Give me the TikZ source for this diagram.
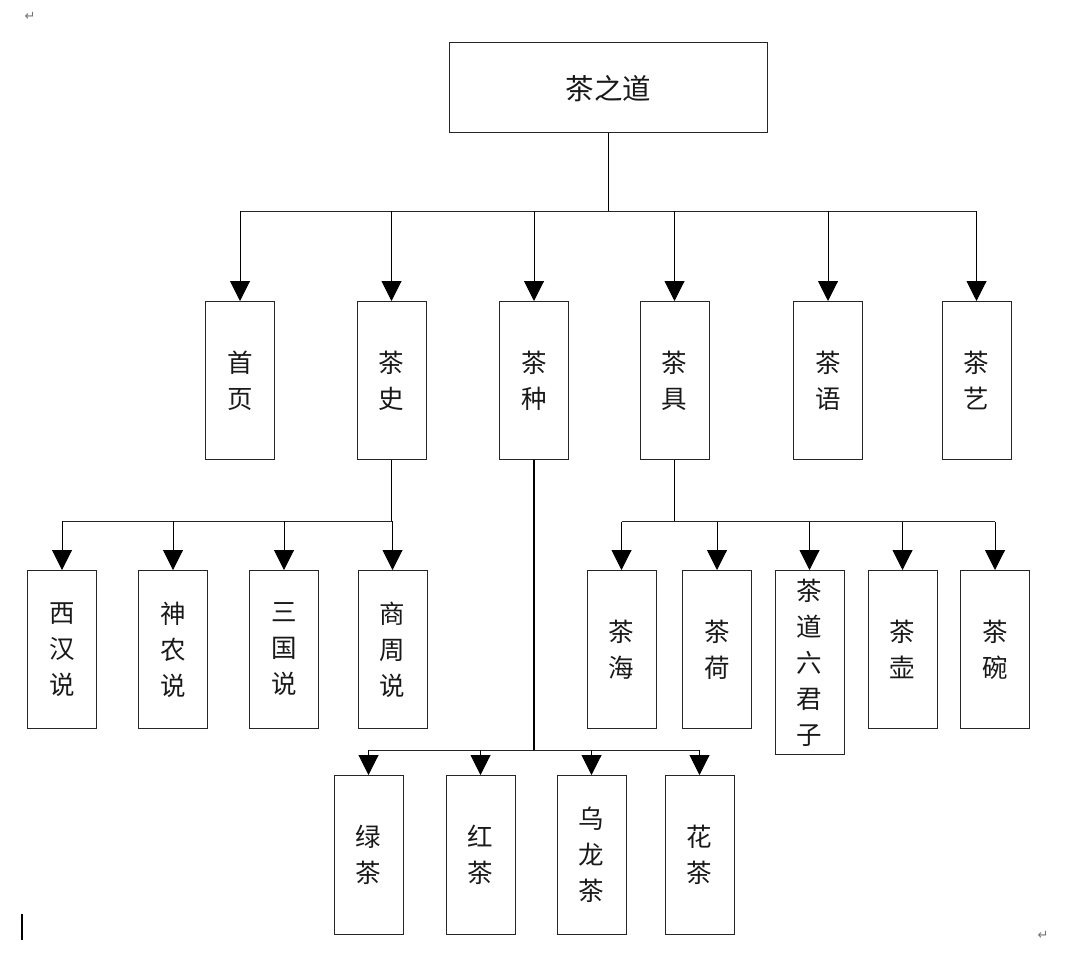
\documentclass[tikz,border=0pt]{standalone}
\usepackage{fontspec}
\newfontfamily\cjk{Noto Sans CJK SC}
\newfontfamily\dvfont{DejaVu Sans}
\usetikzlibrary{arrows.meta}
\tikzset{
  box/.style={draw=black!85, line width=1pt, rectangle, inner sep=0pt,
    minimum width=69pt, font=\cjk\fontsize{25.5}{36}\selectfont, align=center, text=black!90},
  tallbox/.style={box, minimum height=158pt, anchor=north},
  link/.style={line width=1pt, black!85},
  trunk/.style={line width=1.8pt, black},
  arr/.style={-{Triangle[length=20pt,width=20pt]}, line width=1pt, black},
  pagemark/.style={font=\dvfont\fontsize{13}{13}\selectfont, text=black!55, inner sep=0pt},
}
\begin{document}
\begin{tikzpicture}[x=1pt,y=-1pt]
\useasboundingbox (0,0) rectangle (1067,962);
% root
\node[box, minimum width=318pt, minimum height=90pt, anchor=north west,
  font=\cjk\fontsize{28.5}{36}\selectfont, text depth=0pt] (root) at (449,42) {茶之道};
% level 1
\node[tallbox] (shouye) at (240,301) {首\\页};
\node[tallbox] (chashi) at (391.5,301) {茶\\史};
\node[tallbox] (chazhong) at (534,301) {茶\\种};
\node[tallbox] (chaju) at (674.5,301) {茶\\具};
\node[tallbox] (chayu) at (828,301) {茶\\语};
\node[tallbox] (chayi) at (976.5,301) {茶\\艺};
% level 2 under 茶史
\node[tallbox] (xihan) at (62,570) {西\\汉\\说};
\node[tallbox] (shennong) at (173,570) {神\\农\\说};
\node[tallbox] (sanguo) at (284,570) {三\\国\\说};
\node[tallbox] (shangzhou) at (392.5,570) {商\\周\\说};
% level 2 under 茶具
\node[tallbox] (chahai) at (621.5,570) {茶\\海};
\node[tallbox] (chahe) at (717,570) {茶\\荷};
\node[tallbox, minimum height=184pt] (liujunzi) at (809.5,570) {茶\\道\\六\\君\\子};
\node[tallbox] (chahu) at (902.5,570) {茶\\壶};
\node[tallbox] (chawan) at (995,570) {茶\\碗};
% level 2 under 茶种
\node[tallbox, minimum height=159pt] (lvcha) at (368.5,775) {绿\\茶};
\node[tallbox, minimum height=159pt] (hongcha) at (480.5,775) {红\\茶};
\node[tallbox, minimum height=159pt] (wulong) at (591.5,775) {乌\\龙\\茶};
\node[tallbox, minimum height=159pt] (huacha) at (699.5,775) {花\\茶};

% root connectors
\draw[trunk] (root.south) -- (root.south |- 0,211) coordinate (busA);
\draw[link] (shouye.north |- busA) -- (chayi.north |- busA);
\foreach \n in {shouye,chashi,chazhong,chaju,chayu,chayi}
  \draw[arr] (\n.north |- busA) -- (\n.north);

% 茶史 connectors
\draw[trunk] (chashi.south) -- (chashi.south |- 0,521) coordinate (busB);
\draw[link] (xihan.north |- busB) -- (busB);
\foreach \n in {xihan,shennong,sanguo,shangzhou}
  \draw[arr] (\n.north |- busB) -- (\n.north);

% 茶具 connectors
\draw[trunk] (chaju.south) -- (chaju.south |- 0,521.5) coordinate (busC);
\draw[link] (chahai.north |- busC) -- (chawan.north |- busC);
\foreach \n in {chahai,chahe,liujunzi,chahu,chawan}
  \draw[arr] (\n.north |- busC) -- (\n.north);

% 茶种 connectors
\draw[trunk] (chazhong.south) -- (chazhong.south |- 0,750) coordinate (busD);
\draw[link] (lvcha.north |- busD) -- (huacha.north |- busD);
\foreach \n in {lvcha,hongcha,wulong,huacha}
  \draw[arr] (\n.north |- busD) -- (\n.north);

% page marks
\node[pagemark] (m1) at (30,16) {↵};
\node[pagemark] (m2) at (1043,935) {↵};
\coordinate (curTop) at (22,914);
\coordinate (curBot) at (22,940);
\draw[line width=1.3pt] (curTop) -- (curBot);
\end{tikzpicture}
\end{document}
